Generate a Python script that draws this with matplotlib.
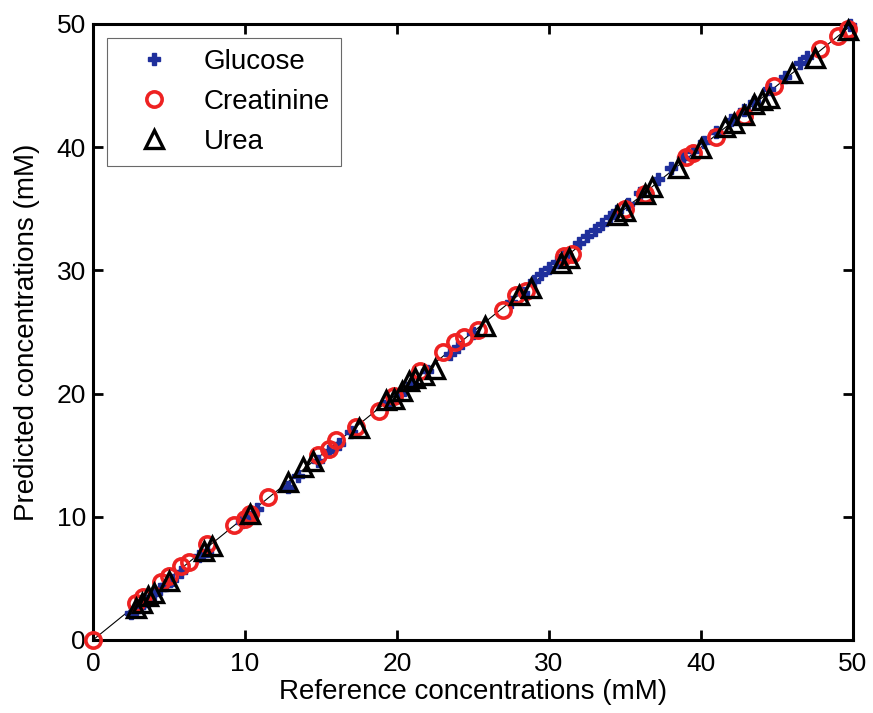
import numpy as np
import matplotlib.pyplot as plt

plt.rcParams['font.family'] = ['Liberation Sans', 'DejaVu Sans']

# --- Data ---
glucose_ref = [2.5, 2.8, 3.0, 3.3, 3.6, 4.0, 4.4, 4.8, 5.2, 5.8, 7.0, 7.5, 9.8, 10.3,
               10.8, 12.8, 13.5, 14.8, 15.5, 16.2, 17.0, 19.5, 20.2, 21.0, 22.0, 23.5,
               24.0, 25.0, 27.5, 28.3, 29.0, 29.5, 30.0, 30.5, 31.0, 32.0, 32.5, 33.0,
               33.5, 34.0, 34.5, 35.2, 36.0, 37.2, 38.0, 38.8, 39.5, 40.2, 41.0, 42.0,
               42.8, 43.5, 44.5, 45.5, 46.5, 47.0, 49.8]
glucose_pred = [2.2, 2.5, 2.7, 3.0, 3.2, 3.7, 4.1, 4.5, 4.9, 5.5, 6.8, 7.2, 9.6, 10.0,
                10.6, 12.4, 13.3, 14.5, 15.3, 15.9, 16.9, 19.3, 20.0, 20.8, 21.8, 23.2,
                23.8, 24.9, 27.4, 28.2, 29.1, 29.7, 30.2, 30.7, 31.2, 32.2, 32.8, 33.3,
                33.8, 34.3, 34.8, 35.4, 36.3, 37.4, 38.3, 39.1, 39.7, 40.4, 41.2, 42.2,
                43.0, 43.7, 44.7, 45.7, 46.8, 47.3, 49.9]

creat_ref = [0.0, 2.8, 3.3, 4.5, 5.0, 5.8, 6.3, 7.5, 9.3, 10.0, 10.3, 11.5, 14.8, 15.5,
             16.0, 17.3, 18.8, 19.8, 21.5, 23.0, 23.8, 24.4, 25.3, 27.0, 27.8, 28.5,
             31.0, 31.5, 35.0, 36.3, 39.0, 39.5, 41.0, 42.8, 44.8, 47.8, 49.0, 49.7]
creat_pred = [0.0, 3.0, 3.5, 4.7, 5.2, 6.0, 6.3, 7.8, 9.3, 9.8, 10.2, 11.6, 15.0, 15.5,
              16.2, 17.3, 18.6, 19.8, 21.8, 23.4, 24.2, 24.6, 25.2, 26.8, 28.0, 28.3,
              31.2, 31.3, 35.0, 36.2, 39.2, 39.5, 40.8, 42.5, 45.0, 48.0, 49.0, 49.6]

urea_ref = [2.8, 3.2, 3.6, 4.0, 5.0, 7.3, 7.8, 10.3, 12.8, 13.8, 14.5, 17.5, 19.3, 19.8,
            20.3, 20.8, 21.2, 21.8, 22.5, 25.8, 28.0, 28.8, 30.8, 31.3, 34.5, 35.0,
            36.3, 36.8, 38.5, 40.0, 41.6, 42.2, 42.8, 43.5, 44.0, 44.5, 46.0, 47.5, 49.7]
urea_pred = [2.6, 3.0, 3.6, 3.8, 4.8, 7.2, 7.6, 10.2, 12.8, 14.0, 14.5, 17.2, 19.5, 19.6,
             20.2, 21.0, 21.3, 21.5, 22.0, 25.5, 28.0, 28.6, 30.6, 31.0, 34.5, 34.8,
             36.2, 36.8, 38.3, 39.9, 41.6, 42.0, 42.6, 43.5, 43.8, 44.0, 46.0, 47.2, 49.5]

fig = plt.figure(figsize=(8.73, 7.13), dpi=100)
ax = fig.add_axes([0.1065, 0.1024, 0.8706, 0.864])

# identity line
ax.plot([0, 50], [0, 50], color='black', lw=0.8, zorder=1)

ax.plot(glucose_ref, glucose_pred, linestyle='none', marker='P', ms=9,
        color='#1f2f9c', mec='#1f2f9c', label='Glucose', zorder=2, clip_on=False)
ax.plot(creat_ref, creat_pred, linestyle='none', marker='o', ms=11, mfc='none',
        mec='#ee2222', mew=2.6, label='Creatinine', zorder=3, clip_on=False)
ax.plot(urea_ref, urea_pred, linestyle='none', marker='^', ms=13, mfc='none',
        mec='black', mew=2.4, label='Urea', zorder=4, clip_on=False)

ax.set_xlim(0, 50)
ax.set_ylim(0, 50)
ax.set_xticks([0, 10, 20, 30, 40, 50])
ax.set_yticks([0, 10, 20, 30, 40, 50])
ax.tick_params(direction='in', length=7, width=2, labelsize=19,
               top=True, right=True)
ax.tick_params(axis='x', pad=9)
ax.tick_params(axis='y', pad=5)
for s in ax.spines.values():
    s.set_linewidth(2.2)

ax.set_xlabel('Reference concentrations (mM)', fontsize=20, labelpad=2)
ax.set_ylabel('Predicted concentrations (mM)', fontsize=20, labelpad=12)

leg = ax.legend(loc='upper left', fontsize=20, frameon=True, fancybox=False,
                edgecolor='#444444', borderpad=0.4, handletextpad=0.5,
                labelspacing=0.5, borderaxespad=0.5, handlelength=2.6)
leg.get_frame().set_linewidth(0.8)

fig.savefig('out.png', dpi=100)
